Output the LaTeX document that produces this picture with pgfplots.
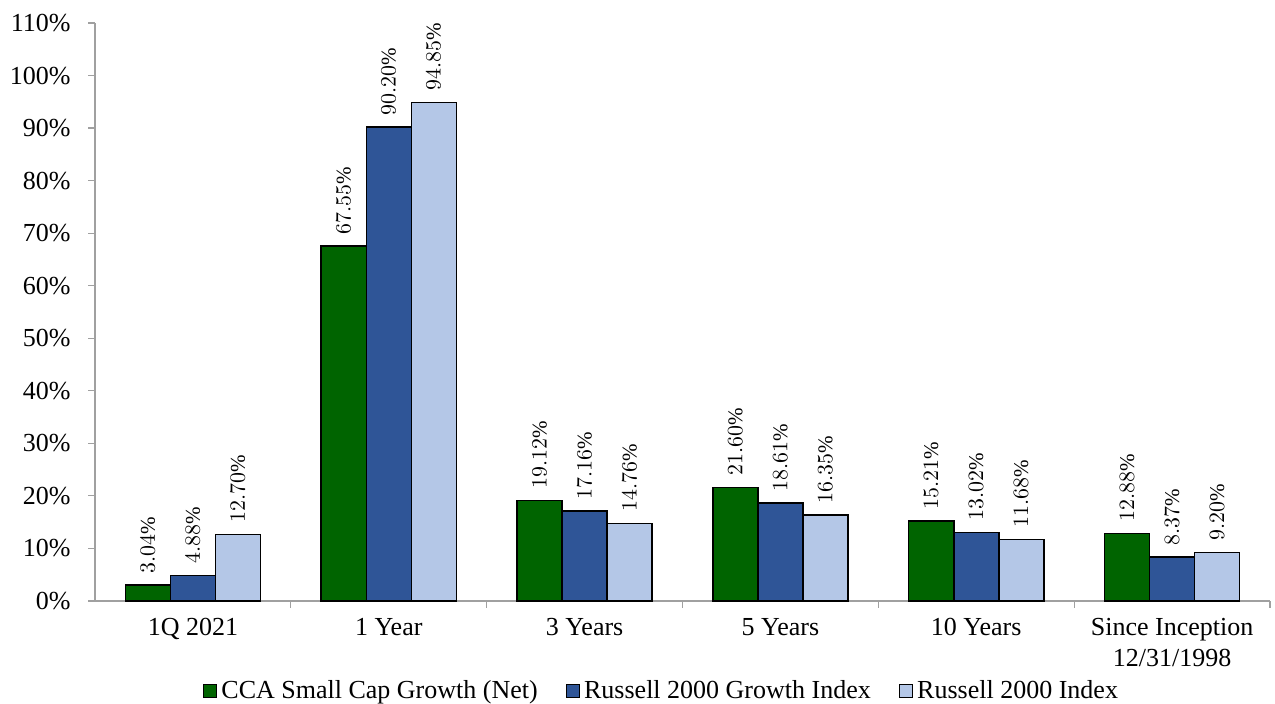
\documentclass[border=0pt]{standalone}
\usepackage{pgfplots}
\usepackage{pgfplotstable}
\pgfplotsset{compat=1.18}
\usepackage{fontspec}
\setmainfont{Liberation Serif}
\definecolor{cgreen}{RGB}{0,100,0}
\definecolor{cblue}{RGB}{47,85,151}
\definecolor{clight}{RGB}{180,199,231}
\definecolor{axgray}{RGB}{160,160,160}
\pgfplotstableread{
x cca rtg rt
0 3.04 4.88 12.70
1 67.55 90.20 94.85
2 19.12 17.16 14.76
3 21.60 18.61 16.35
4 15.21 13.02 11.68
5 12.88 8.37 9.20
}\data
\begin{document}
\begin{tikzpicture}
\useasboundingbox (0,0) rectangle (637.5pt,352pt);
\begin{axis}[
  at={(47.5pt,51.5pt)}, anchor=south west,
  scale only axis, width=587.5pt, height=289pt,
  ybar=0pt, bar width=22.5pt,
  xmin=-0.5, xmax=5.5, ymin=0, ymax=110,
  axis x line*=bottom, axis y line*=left,
  axis line style={axgray, line width=0.6pt},
  ytick={0,10,...,110},
  yticklabel={\pgfmathprintnumber[assume math mode=true]{\tick}\%},
  yticklabel style={font=\fontsize{13}{15}\selectfont, inner sep=0pt, anchor=east, xshift=-8.5pt},
  y tick style={axgray, line width=0.6pt},
  tick align=outside, major tick length=3.5pt,
  xtick={0,...,5},
  xticklabels={1Q 2021,1 Year,3 Years,5 Years,10 Years,{Since Inception\\12/31/1998}},
  xticklabel style={font=\fontsize{13}{15.5}\selectfont, align=center, anchor=north, inner sep=0pt, yshift=-5pt},
  x tick style={draw=none},
  extra x ticks={0.5,1.5,2.5,3.5,4.5,5.5},
  extra x tick labels={},
  extra x tick style={x tick style={draw=axgray, line width=0.6pt}, major tick length=3.5pt},
  every axis plot/.append style={draw=black, line width=0.75pt},
  nodes near coords={\pgfmathprintnumber[fixed,fixed zerofill,precision=2]{\pgfplotspointmeta}\%},
  every node near coord/.append style={rotate=90, anchor=west, inner xsep=5.5pt, inner ysep=0pt, font=\fontsize{10.5}{12}\selectfont, black},
  legend style={draw=none, at={(0.483,-0.156)}, anchor=center, legend columns=-1,
    font=\fontsize{13}{15}\selectfont,
    /tikz/every even column/.append style={column sep=12pt}},
  legend image code/.code={\draw[#1, draw=black, line width=0.6pt] (0pt,-3.3pt) rectangle (6.6pt,3.3pt);},
  clip=false,
]
\addplot[fill=cgreen] table[x=x,y=cca]{\data};
\addplot[fill=cblue] table[x=x,y=rtg]{\data};
\addplot[fill=clight] table[x=x,y=rt]{\data};
\legend{CCA Small Cap Growth (Net),Russell 2000 Growth Index,Russell 2000 Index}
\end{axis}
\end{tikzpicture}
\end{document}
